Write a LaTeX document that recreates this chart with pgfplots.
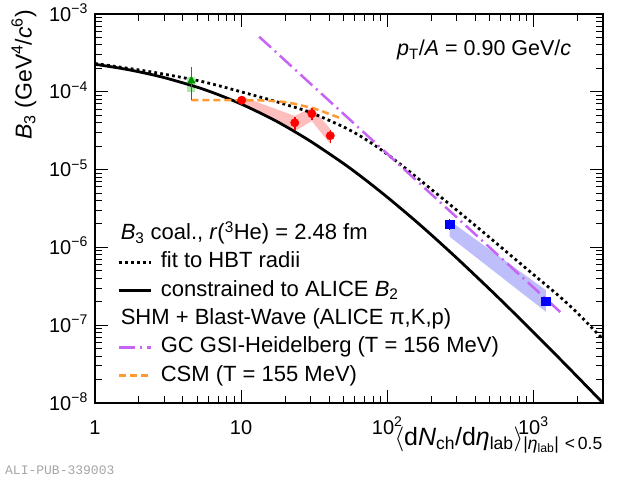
\documentclass[border=0pt]{standalone}
\usepackage{fontspec}
\setmainfont{Liberation Sans}
\newfontfamily\wmfont{Liberation Mono}
\usepackage{pgfplots}
\pgfplotsset{compat=1.18}
\definecolor{gcpurple}{RGB}{200,100,245}
\definecolor{csmorange}{RGB}{255,153,51}
\definecolor{dgreen}{RGB}{0,150,0}
\definecolor{lgreen}{RGB}{170,235,170}
\definecolor{pinkband}{RGB}{255,190,190}
\definecolor{blueband}{RGB}{190,190,250}
\newcommand{\tlab}[1]{10\textsuperscript{#1}}
\begin{document}
\begin{tikzpicture}
\path[use as bounding box] (-95bp,-79bp) rectangle (525bp,403bp);
\begin{axis}[
  at={(0,0)}, anchor=south west,
  scale only axis, width=508bp, height=389bp,
  xmode=log, ymode=log,
  xmin=1, xmax=3000, ymin=1e-8, ymax=1e-3,
  xtick={1,10,100,1000},
  xticklabels={1,10,\tlab{2},\tlab{3}},
  minor xtick={2,3,4,5,6,7,8,9,20,30,40,50,60,70,80,90,200,300,400,500,600,700,800,900,2000,3000},
  ytick={1e-8,1e-7,1e-6,1e-5,1e-4,1e-3},
  yticklabels={\tlab{−8},\tlab{−7},\tlab{−6},\tlab{−5},\tlab{−4},\tlab{−3}},
  minor ytick={2e-8,3e-8,4e-8,5e-8,6e-8,7e-8,8e-8,9e-8,2e-7,3e-7,4e-7,5e-7,6e-7,7e-7,8e-7,9e-7,2e-6,3e-6,4e-6,5e-6,6e-6,7e-6,8e-6,9e-6,2e-5,3e-5,4e-5,5e-5,6e-5,7e-5,8e-5,9e-5,2e-4,3e-4,4e-4,5e-4,6e-4,7e-4,8e-4,9e-4},
  tick label style={font=\fontsize{20bp}{24bp}\selectfont},
  yticklabel style={anchor=base east, inner sep=0pt, xshift=-7bp, yshift=-7bp},
  xticklabel style={anchor=base, inner sep=0pt, yshift=-31bp},
  major tick length=13bp, minor tick length=7bp,
  tick style={line width=1bp, black},
  axis line style={line width=1.2bp},
  tick align=inside,
  ylabel={\textit{B}\textsubscript{3} (GeV\textsuperscript{4}/\textit{c}\textsuperscript{6})},
  ylabel style={at={(axis description cs:-0.1246,1.0103)}, anchor=base east, inner sep=0pt, font=\fontsize{23bp}{27bp}\selectfont},
  xlabel={$\Big\langle$d\textit{N}\textsubscript{ch}/d\textit{η}\textsubscript{lab}$\Big\rangle$\textsubscript{|\textit{η}\textsubscript{lab}|\,\,<\,0.5}},
  xlabel style={at={(axis description cs:1,-0.1100)}, anchor=base east, inner sep=0pt, font=\fontsize{25bp}{29bp}\selectfont},
  legend image code/.code={\draw[#1] (0bp,0bp) -- (32bp,0bp); \path (40bp,0bp);},
  legend style={at={(axis description cs:0.0453,0.4612)}, anchor=north west, draw=none, fill=none,
    inner sep=0pt, outer sep=0pt, row sep=7.3bp, column sep=0pt,
    font=\fontsize{22bp}{26bp}\selectfont,
    nodes={inner sep=0pt, outer sep=0pt, text height=16bp, text depth=5bp}},
  legend cell align=left,
]
% bands
\addplot[fill=pinkband, draw=none, forget plot] coordinates {(10.1,8.7e-5) (23.3,4.9e-5) (30.5,6.3e-5) (40.8,3.33e-5) (40.8,2.13e-5) (30.5,4.2e-5) (23.3,3.12e-5) (10.1,6.95e-5)} -- cycle;
\addplot[fill=blueband, draw=none, forget plot] coordinates {(268,2.2e-6) (1219,2.83e-7) (1219,1.49e-7) (268,1.37e-6)} -- cycle;
\addplot[fill=lgreen, draw=none, forget plot] coordinates {(4.27,1.0e-4) (4.87,1.0e-4) (4.87,1.57e-4) (4.27,1.57e-4)} -- cycle;
% solid: constrained to ALICE B2
\addplot[black, line width=2.8bp, smooth, forget plot] coordinates {
(1,2.26e-4) (1.5,2.004e-4) (2,1.807e-4) (3,1.516e-4) (5,1.147e-4) (7,9.17e-5) (10,6.97e-5) (15,4.85e-5) (20,3.63e-5) (30,2.30e-5) (50,1.205e-5) (70,7.54e-6) (100,4.43e-6) (150,2.338e-6) (200,1.455e-6) (300,7.27e-7) (500,2.93e-7) (700,1.584e-7) (1000,8.15e-8) (1500,3.79e-8) (2000,2.184e-8) (3000,9.99e-9)};
% dotted: fit to HBT radii
\addplot[black, line width=2.8bp, dash pattern=on 2.8bp off 3.2bp, smooth, forget plot] coordinates {
(1,2.31e-4) (2,1.91e-4) (3,1.68e-4) (5,1.40e-4) (7,1.20e-4) (10,1.0e-4) (15,8.1e-5) (20,6.9e-5) (30,5.4e-5) (50,3.55e-5) (70,2.5e-5) (100,1.58e-5) (150,8.7e-6) (200,5.6e-6) (300,3.0e-6) (500,1.35e-6) (700,7.9e-7) (1000,4.5e-7) (1500,2.37e-7) (2000,1.44e-7) (3000,6.6e-8)};
% GC GSI-Heidelberg
\addplot[gcpurple, line width=2.5bp, dash pattern=on 16bp off 5bp on 2bp off 5bp, forget plot] coordinates {
(13.3,5.1e-4) (30,1.26e-4) (100,1.60e-5) (300,2.42e-6) (1000,3.07e-7) (1611,1.35e-7)};
% CSM
\addplot[csmorange, line width=2.5bp, dash pattern=on 7bp off 4bp, smooth, tension=0.4, forget plot] coordinates {
(4.57,7.8e-5) (10,7.8e-5) (15,7.7e-5) (20.8,7.3e-5) (31.6,6.1e-5) (40,5.2e-5) (48.3,4.56e-5)};
% data points
\addplot[dgreen, only marks, mark=triangle*, mark size=4.5bp, mark options={fill=dgreen, draw=dgreen}, forget plot,
  error bars/.cd, y dir=both, y explicit, error mark=none, error bar style={line width=1.5bp, dgreen}]
  coordinates {(4.57,1.38e-4) += (0,0.72e-4) -= (0,0.60e-4)};
\addplot[red, only marks, mark=*, mark size=4.2bp, mark options={fill=red, draw=red}, forget plot,
  error bars/.cd, y dir=both, y explicit, error mark=none, error bar style={line width=1.5bp, red}]
  coordinates {(10.1,7.8e-5) +- (0,1.1e-5) (23.3,4.0e-5) +- (0,0.75e-5) (30.5,5.23e-5) +- (0,0.95e-5) (40.8,2.73e-5) +- (0,0.5e-5)};
\addplot[blue, only marks, mark=square*, mark size=4.2bp, mark options={fill=blue, draw=blue}, forget plot,
  error bars/.cd, y dir=both, y explicit, error mark=none, error bar style={line width=1.5bp, blue}]
  coordinates {(268,1.98e-6) +- (0,0.33e-6) (1219,2.05e-7) +- (0,0.28e-7)};
% legend
\addlegendimage{empty legend}
\addlegendentry{\hspace*{-40bp}\textit{B}\textsubscript{3} coal., \textit{r}(\textsuperscript{3}He) = 2.48 fm}
\addlegendimage{black, line width=2.8bp, dash pattern=on 2.8bp off 3.2bp}
\addlegendentry{fit to HBT radii}
\addlegendimage{black, line width=2.8bp}
\addlegendentry{constrained to ALICE \textit{B}\textsubscript{2}}
\addlegendimage{empty legend}
\addlegendentry{\hspace*{-40bp}SHM + Blast-Wave (ALICE π,K,p)}
\addlegendimage{gcpurple, line width=2.5bp, dash pattern=on 16bp off 5bp on 2bp off 5bp}
\addlegendentry{GC GSI-Heidelberg (T = 156 MeV)}
\addlegendimage{csmorange, line width=2.5bp, dash pattern=on 7bp off 4bp}
\addlegendentry{CSM (T = 155 MeV)}
\end{axis}
\node[anchor=base west, inner sep=0pt, font=\fontsize{21.5bp}{25bp}\selectfont] at (302bp,347bp) {\textit{p}\textsubscript{T}/\textit{A} = 0.90 GeV/\textit{c}};
\node[anchor=west, inner sep=0pt, text=black!35, font=\wmfont\fontsize{13bp}{15bp}\selectfont] at (-90bp,-67bp) {ALI-PUB-339003};
\end{tikzpicture}
\end{document}
